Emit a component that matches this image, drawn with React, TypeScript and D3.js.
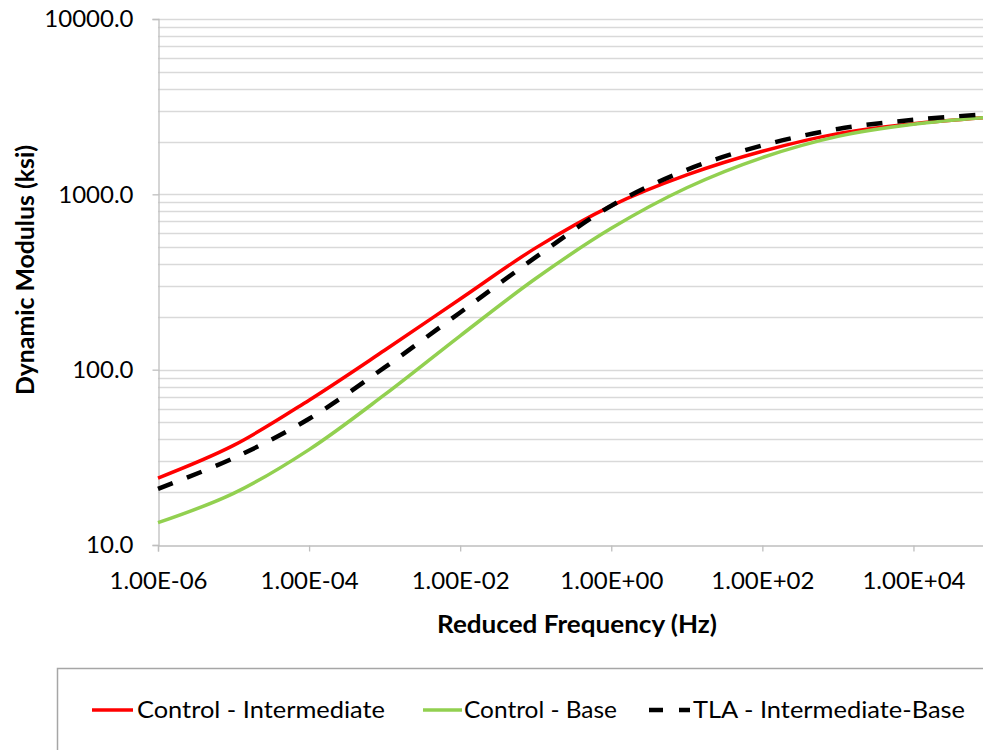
import React, { useEffect, useRef } from "react";
import * as d3 from "d3";

// reduced frequency (Hz), one point per decade
const frequencies = [1e-6, 1e-5, 1e-4, 1e-3, 1e-2, 1e-1, 1e0, 1e1, 1e2, 1e3, 1e4, 1e5];

// dynamic modulus (ksi)
const controlIntermediate = [24.1, 37, 67, 129, 253, 495, 860, 1290, 1760, 2220, 2530, 2750];
const controlBase = [13.4, 19.7, 35, 72, 156, 331, 640, 1090, 1620, 2140, 2510, 2750];
const tlaIntermediateBase = [20.9, 31.3, 52.5, 103, 212, 438, 861, 1380, 1900, 2360, 2660, 2870];

const seriesNames = ["Control - Intermediate", "Control - Base", "TLA - Intermediate-Base"];
const xTickValues = [1e-6, 1e-4, 1e-2, 1e0, 1e2, 1e4];
const yTickValues = [10, 100, 1000, 10000];

const width = 983;
const height = 750;
const margin = { top: 19, right: -6, bottom: 205, left: 158 };
const font = "Lato, 'Open Sans', sans-serif";

const fmtSci = (v: number) => {
  const e = Math.round(Math.log10(v));
  const m = v / Math.pow(10, e);
  return `${m.toFixed(2)}E${e < 0 ? "-" : "+"}${String(Math.abs(e)).padStart(2, "0")}`;
};

const App = () => {
  const ref = useRef<SVGSVGElement>(null);

  useEffect(() => {
    const svg = d3.select(ref.current);
    svg.selectAll("*").remove();

    const x = d3
      .scaleLog()
      .domain([1e-6, 1e5])
      .range([margin.left, width - margin.right]);
    const y = d3
      .scaleLog()
      .domain([10, 10000])
      .range([height - margin.bottom, margin.top]);

    // horizontal grid, majors and minors
    const gridValues: number[] = [];
    [10, 100, 1000].forEach((d) => {
      for (let k = 1; k <= 9; k++) gridValues.push(d * k);
    });
    gridValues.push(10000);
    svg
      .append("g")
      .selectAll("line")
      .data(gridValues.filter((d) => d > 10))
      .enter()
      .append("line")
      .attr("x1", margin.left)
      .attr("x2", width)
      .attr("y1", (d) => Math.round(y(d)) + 0.5)
      .attr("y2", (d) => Math.round(y(d)) + 0.5)
      .attr("stroke", "#d9d9d9")
      .attr("stroke-width", 1.3);

    // axes
    const yAxis = svg
      .append("g")
      .attr("transform", `translate(${margin.left + 0.5},0)`)
      .call(d3.axisLeft(y).tickValues(yTickValues).tickFormat(d3.format(".1f")).tickSize(6).tickPadding(19));
    const xAxis = svg
      .append("g")
      .attr("transform", `translate(0,${height - margin.bottom + 0.5})`)
      .call(d3.axisBottom(x).tickValues(xTickValues).tickFormat((d) => fmtSci(+d)).tickSize(6).tickPadding(20));

    [yAxis, xAxis].forEach((g) => {
      g.select(".domain").attr("stroke", "#bfbfbf").attr("stroke-width", 1.3);
      g.selectAll(".tick line").attr("stroke", "#bfbfbf").attr("stroke-width", 1.3);
      g.selectAll(".tick text").attr("fill", "#000").style("font-family", font).style("font-size", "24px");
    });

    // curves
    const line = d3
      .line<number>()
      .x((_, i) => x(frequencies[i]))
      .y((d) => y(d))
      .curve(d3.curveCatmullRom.alpha(0.5));

    const styles = [
      { values: controlIntermediate, color: "#ff0000", w: 3.5, dash: null },
      { values: controlBase, color: "#92d050", w: 3.5, dash: null },
      { values: tlaIntermediateBase, color: "#000000", w: 4.5, dash: "16,15" },
    ];

    styles.forEach((s) => {
      svg
        .append("path")
        .datum(s.values)
        .attr("d", line)
        .attr("fill", "none")
        .attr("stroke", s.color)
        .attr("stroke-width", s.w)
        .attr("stroke-dasharray", s.dash);
    });

    // axis titles
    svg
      .append("text")
      .attr("x", 577)
      .attr("y", 633)
      .attr("text-anchor", "middle")
      .attr("textLength", 280)
      .attr("lengthAdjust", "spacingAndGlyphs")
      .style("font-family", font)
      .style("font-weight", "bold")
      .style("font-size", "25px")
      .text("Reduced Frequency (Hz)");

    svg
      .append("text")
      .attr("transform", `translate(34,270) rotate(-90)`)
      .attr("text-anchor", "middle")
      .attr("textLength", 250)
      .attr("lengthAdjust", "spacingAndGlyphs")
      .style("font-family", font)
      .style("font-weight", "bold")
      .style("font-size", "25px")
      .text("Dynamic Modulus (ksi)");

    // legend
    svg
      .append("rect")
      .attr("x", 57.5)
      .attr("y", 668.5)
      .attr("width", 1000)
      .attr("height", 200)
      .attr("fill", "none")
      .attr("stroke", "#a6a6a6")
      .attr("stroke-width", 1.5);

    const legendItems = [
      { x1: 92, x2: 133, tx: 137, tw: 248 },
      { x1: 423, x2: 462, tx: 464, tw: 153 },
      { x1: 649, x2: 690, tx: 693, tw: 272 },
    ];
    legendItems.forEach((it, i) => {
      const s = styles[i];
      svg
        .append("line")
        .attr("x1", it.x1)
        .attr("x2", it.x2)
        .attr("y1", 710)
        .attr("y2", 710)
        .attr("stroke", s.color)
        .attr("stroke-width", s.w)
        .attr("stroke-dasharray", s.dash ? "14,16" : null);
      svg
        .append("text")
        .attr("x", it.tx)
        .attr("y", 718)
        .attr("textLength", it.tw)
        .attr("lengthAdjust", "spacingAndGlyphs")
        .style("font-family", font)
        .style("font-size", "24px")
        .text(seriesNames[i]);
    });
  }, []);

  return (
    <svg
      ref={ref}
      width={width}
      height={height}
      style={{ position: "absolute", left: 0, top: 0, background: "#fff" }}
    />
  );
};

export default App;
